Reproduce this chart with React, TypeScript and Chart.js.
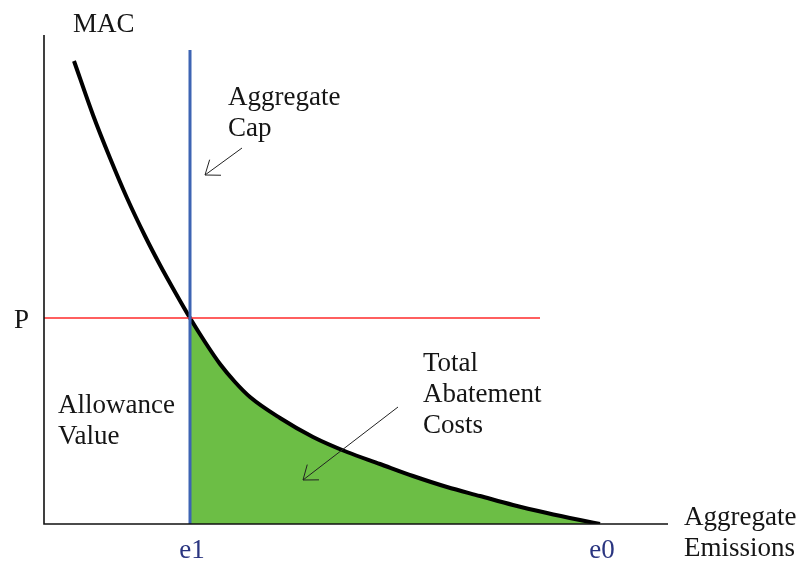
import React, { useEffect, useRef } from "react";
import { Chart, registerables } from "chart.js";

Chart.register(...registerables);

// Marginal abatement cost curve (x: aggregate emissions, y: MAC)
const MAC_X = [30, 49, 66, 83, 101, 116, 131, 146, 161, 176, 191, 206, 236, 269, 303, 336, 369, 403, 436, 469, 503, 536, 556];
const MAC_Y = [463, 409, 366, 326, 288, 259, 232, 206, 182, 160, 142, 127, 106, 87, 72, 60, 48, 37, 28, 19, 11, 4, 0];

const X_MAX = 624;
const Y_MAX = 489;
const E1 = 146; // aggregate cap
const E0 = 556; // unregulated emissions
const PRICE = 206; // allowance price P
const CAP_TOP = 474;
const PRICE_END = 496;

const TICK_X_LABELS = [
  { text: "e1", value: E1 },
  { text: "e0", value: E0 },
];

const TEXTS = [
  { lines: ["MAC"], x: 29, y: 492 },
  { lines: ["P"], x: -30, y: 196 },
  { lines: ["Aggregate", "Cap"], x: 184, y: 419 },
  { lines: ["Allowance", "Value"], x: 14, y: 111 },
  { lines: ["Total", "Abatement", "Costs"], x: 379, y: 153 },
  { lines: ["Aggregate", "Emissions"], x: 640, y: -1 },
];

const ARROWS = [
  { from: [198, 376], to: [161, 349] },
  { from: [354, 117], to: [259, 44] },
];

const FONT = '27px "Liberation Serif", "Times New Roman", serif';

const overlayPlugin = {
  id: "overlay",
  afterDatasetsDraw(chart: any) {
    const ctx = chart.ctx;
    const xs = chart.scales.x;
    const ys = chart.scales.y;
    const px = (v: number) => xs.getPixelForValue(v);
    const py = (v: number) => ys.getPixelForValue(v);
    ctx.save();
    // axes
    ctx.strokeStyle = "#111";
    ctx.lineWidth = 1.6;
    ctx.beginPath();
    ctx.moveTo(px(0), py(Y_MAX));
    ctx.lineTo(px(0), py(0));
    ctx.lineTo(px(X_MAX), py(0));
    ctx.stroke();

    // texts
    ctx.font = FONT;
    ctx.fillStyle = "#151515";
    ctx.textAlign = "left";
    ctx.textBaseline = "alphabetic";
    TEXTS.forEach((t) => {
      t.lines.forEach((line, i) => {
        ctx.fillText(line, px(t.x), py(t.y) + i * 31);
      });
    });

    // tick labels
    ctx.fillStyle = "#2A3580";
    ctx.textAlign = "center";
    TICK_X_LABELS.forEach((t) => {
      ctx.fillText(t.text, px(t.value) + 2, py(0) + 34);
    });

    // arrows
    ctx.strokeStyle = "#222";
    ctx.lineWidth = 1;
    ARROWS.forEach((a) => {
      const x1 = px(a.from[0]);
      const y1 = py(a.from[1]);
      const x2 = px(a.to[0]);
      const y2 = py(a.to[1]);
      ctx.beginPath();
      ctx.moveTo(x1, y1);
      ctx.lineTo(x2, y2);
      const ang = Math.atan2(y1 - y2, x1 - x2);
      const half = (37 * Math.PI) / 180;
      const len = 16;
      ctx.moveTo(x2 + len * Math.cos(ang - half), y2 + len * Math.sin(ang - half));
      ctx.lineTo(x2, y2);
      ctx.lineTo(x2 + len * Math.cos(ang + half), y2 + len * Math.sin(ang + half));
      ctx.stroke();
    });
    ctx.restore();
  },
};

export default function App() {
  const ref = useRef<HTMLCanvasElement | null>(null);
  useEffect(() => {
    document.body.style.margin = "0";
    if (!ref.current) return;
    const curve = MAC_X.map((x, i) => ({ x, y: MAC_Y[i] }));
    const fillPts = curve.filter((p) => p.x >= E1);
    const chart = new Chart(ref.current, {
      type: "line",
      data: {
        datasets: [
          {
            label: "Total Abatement Costs",
            data: fillPts,
            fill: "origin",
            backgroundColor: "#6CBE45",
            borderWidth: 0,
            pointRadius: 0,
            cubicInterpolationMode: "monotone",
            order: 4,
          },
          {
            label: "MAC",
            data: curve,
            borderColor: "#000",
            borderWidth: 4,
            pointRadius: 0,
            fill: false,
            cubicInterpolationMode: "monotone",
            order: 3,
          },
          {
            label: "P",
            data: [
              { x: 0, y: PRICE },
              { x: PRICE_END, y: PRICE },
            ],
            borderColor: "#FF2A2A",
            borderWidth: 1.5,
            pointRadius: 0,
            fill: false,
            order: 2,
          },
          {
            label: "Aggregate Cap",
            data: [
              { x: E1, y: 0 },
              { x: E1, y: CAP_TOP },
            ],
            borderColor: "#3D64B3",
            borderWidth: 3,
            pointRadius: 0,
            fill: false,
            order: 1,
          },
        ],
      },
      options: {
        animation: false,
        responsive: false,
        layout: { padding: { left: 44, top: 35, right: 134, bottom: 38 } },
        plugins: { legend: { display: false }, tooltip: { enabled: false } },
        scales: {
          x: { type: "linear", min: 0, max: X_MAX, display: false },
          y: { type: "linear", min: 0, max: Y_MAX, display: false },
        },
      },
      plugins: [overlayPlugin],
    });
    return () => chart.destroy();
  }, []);
  return (
    <div style={{ width: 802, height: 562, background: "#fff" }}>
      <canvas ref={ref} width={802} height={562} style={{ display: "block" }} />
    </div>
  );
}
